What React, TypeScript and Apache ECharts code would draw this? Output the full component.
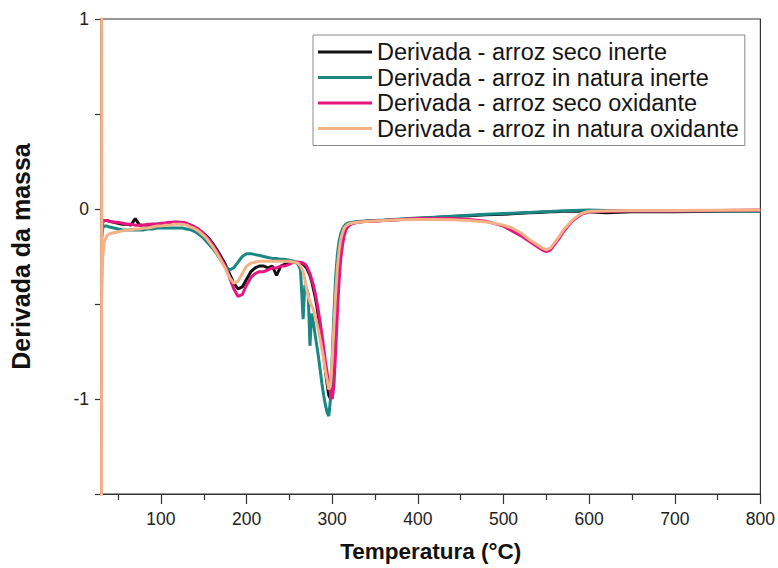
import React, { useEffect, useRef } from "react";
import * as echarts from "echarts";

// Temperature grid (°C) shared by the four DTG curves
const temps = [
  31, 32, 34, 37, 40, 45, 50, 55, 60, 65, 70, 75, 80, 85, 90, 95, 100,
  105, 110, 115, 120, 125, 130, 135, 140, 145, 150, 155, 160, 165, 170, 175, 180, 185, 190, 195, 200,
  205, 210, 215, 220, 225, 230, 235, 240, 245, 250, 255, 260, 263, 266, 268, 270, 272, 274, 276, 278, 280,
  282, 284, 286, 288, 290, 292, 294, 296, 298, 300, 302, 304, 306, 308, 310, 312, 314, 316, 318, 320,
  325, 330, 340, 350, 360, 380, 400, 420, 440, 460, 480, 500, 510, 520, 530, 540, 545, 550, 555, 560, 565, 570, 580, 590, 600, 620, 650, 700, 750, 800,
];

const secoInerte = [
  -0.09, -0.065, -0.06, -0.06, -0.065, -0.07, -0.075, -0.08, -0.08, -0.085, -0.05, -0.085, -0.085, -0.085, -0.08, -0.08, -0.078,
  -0.075, -0.072, -0.07, -0.07, -0.072, -0.078, -0.087, -0.098, -0.112, -0.13, -0.15, -0.178, -0.212, -0.25, -0.29, -0.34, -0.39, -0.42, -0.41, -0.37,
  -0.33, -0.31, -0.3, -0.3, -0.31, -0.3, -0.35, -0.3, -0.29, -0.285, -0.28, -0.28, -0.285, -0.29, -0.3, -0.31, -0.33, -0.35, -0.38, -0.42, -0.46,
  -0.51, -0.57, -0.63, -0.7, -0.77, -0.85, -0.92, -0.98, -1.0, -0.9, -0.72, -0.52, -0.36, -0.25, -0.18, -0.14, -0.11, -0.095, -0.085, -0.08,
  -0.072, -0.068, -0.065, -0.062, -0.06, -0.055, -0.05, -0.045, -0.04, -0.035, -0.03, -0.028, -0.025, -0.023, -0.02, -0.018, -0.017, -0.016, -0.015, -0.014, -0.013, -0.012, -0.012, -0.012, -0.015, -0.02, -0.015, -0.015, -0.012, -0.01,
];

const naturaInerte = [
  -0.15, -0.1, -0.09, -0.09, -0.095, -0.1, -0.105, -0.11, -0.11, -0.11, -0.11, -0.11, -0.11, -0.105, -0.105, -0.1, -0.1,
  -0.1, -0.1, -0.1, -0.1, -0.1, -0.105, -0.11, -0.12, -0.135, -0.155, -0.18, -0.205, -0.235, -0.27, -0.3, -0.32, -0.31, -0.28, -0.25, -0.235,
  -0.235, -0.24, -0.245, -0.25, -0.255, -0.26, -0.26, -0.265, -0.265, -0.27, -0.275, -0.29, -0.32, -0.58, -0.4, -0.42, -0.45, -0.72, -0.55, -0.6, -0.66,
  -0.72, -0.78, -0.85, -0.92, -0.98, -1.03, -1.07, -1.09, -1.0, -0.78, -0.55, -0.36, -0.24, -0.17, -0.13, -0.105, -0.09, -0.08, -0.075, -0.072,
  -0.068, -0.066, -0.063, -0.06, -0.058, -0.053, -0.048, -0.043, -0.038, -0.033, -0.028, -0.024, -0.022, -0.02, -0.018, -0.016, -0.015, -0.014, -0.013, -0.012, -0.011, -0.01, -0.008, -0.006, -0.005, -0.008, -0.01, -0.01, -0.01, -0.012,
];

const secoOxidante = [
  -0.1, -0.07, -0.06, -0.06, -0.065, -0.07, -0.07, -0.075, -0.08, -0.08, -0.085, -0.085, -0.085, -0.08, -0.08, -0.08, -0.075,
  -0.075, -0.07, -0.07, -0.07, -0.07, -0.075, -0.085, -0.095, -0.11, -0.13, -0.155, -0.185, -0.22, -0.26, -0.3, -0.36, -0.42, -0.46, -0.45, -0.4,
  -0.36, -0.34, -0.33, -0.33, -0.32, -0.31, -0.31, -0.3, -0.3, -0.29, -0.28, -0.28, -0.28, -0.285, -0.29, -0.3, -0.32, -0.34, -0.37, -0.4, -0.44,
  -0.49, -0.54, -0.6, -0.66, -0.73, -0.8, -0.86, -0.92, -0.97, -1.0, -0.93, -0.75, -0.55, -0.38, -0.26, -0.19, -0.14, -0.11, -0.095, -0.085,
  -0.075, -0.07, -0.065, -0.065, -0.06, -0.055, -0.05, -0.05, -0.05, -0.055, -0.065, -0.09, -0.115, -0.14, -0.17, -0.2, -0.215, -0.225, -0.215, -0.185, -0.155, -0.12, -0.065, -0.03, -0.015, -0.012, -0.01, -0.01, -0.008, -0.005,
];

const naturaOxidante = [
  -0.45, -0.25, -0.17, -0.14, -0.13, -0.125, -0.12, -0.115, -0.11, -0.11, -0.105, -0.105, -0.1, -0.1, -0.095, -0.09, -0.09,
  -0.085, -0.085, -0.08, -0.08, -0.08, -0.085, -0.095, -0.105, -0.12, -0.14, -0.165, -0.195, -0.23, -0.27, -0.31, -0.36, -0.39, -0.38, -0.34, -0.3,
  -0.285, -0.28, -0.275, -0.275, -0.275, -0.275, -0.275, -0.275, -0.275, -0.275, -0.28, -0.285, -0.3, -0.33, -0.37, -0.42, -0.46, -0.49, -0.51, -0.53, -0.56,
  -0.6, -0.64, -0.69, -0.74, -0.79, -0.85, -0.9, -0.95, -0.93, -0.8, -0.62, -0.45, -0.31, -0.22, -0.16, -0.125, -0.1, -0.09, -0.082, -0.078,
  -0.072, -0.07, -0.066, -0.063, -0.06, -0.057, -0.055, -0.055, -0.057, -0.06, -0.068, -0.085, -0.1, -0.125, -0.16, -0.19, -0.205, -0.215, -0.205, -0.175, -0.145, -0.11, -0.06, -0.025, -0.012, -0.01, -0.008, -0.008, -0.006, -0.005,
];

// Instrument start-up transient of the oxidising run (runs off the scale)
const onsetTemps = [30.6, 30.9];
const onsetValues = [-1.8, 1.3];

const seriesNames = [
  "Derivada - arroz seco inerte",
  "Derivada - arroz in natura inerte",
  "Derivada - arroz seco oxidante",
  "Derivada - arroz in natura oxidante",
];
const seriesColors = ["#111111", "#1a8785", "#e8157f", "#f5b287"];

const xLabelTicks = [100, 200, 300, 400, 500, 600, 700, 800];
const xMinorTicks = [50, 150, 250, 350, 450, 550, 650, 750];

const FONT = "'Liberation Sans', Arial, Helvetica, sans-serif";
const AXIS_COLOR = "#333";

const pairs = (xs: number[], ys: number[]) => xs.map((x, i) => [x, ys[i]]);

// An extra bottom axis that only draws tick marks at the given values
const tickOnlyAxis = (values: number[], length: number) => ({
  type: "value",
  min: 30,
  max: 800,
  position: "bottom",
  axisLine: { show: false, onZero: false },
  axisTick: {
    show: true,
    length,
    customValues: values,
    lineStyle: { color: AXIS_COLOR, width: 1.2 },
  },
  axisLabel: { show: false },
  splitLine: { show: false },
});

export default function App() {
  const ref = useRef<HTMLDivElement>(null);

  useEffect(() => {
    document.body.style.margin = "0";
    const chart = echarts.init(ref.current!, null, { renderer: "svg" });

    const curves = [
      pairs(temps, secoInerte),
      pairs(temps, naturaInerte),
      pairs(temps, secoOxidante),
      pairs(onsetTemps, onsetValues).concat(pairs(temps, naturaOxidante)),
    ];

    chart.setOption({
      animation: false,
      backgroundColor: "#ffffff",
      grid: {
        left: 99,
        right: 16,
        top: 19,
        bottom: 74,
        show: true,
        borderColor: AXIS_COLOR,
        borderWidth: 1.2,
        backgroundColor: "transparent",
      },
      legend: {
        orient: "vertical",
        left: 313,
        top: 35,
        icon: "rect",
        itemWidth: 54,
        itemHeight: 3,
        itemGap: 1.5,
        padding: [5, 6, 5, 5],
        borderColor: "#8a8a8a",
        borderWidth: 1,
        backgroundColor: "#fff",
        data: seriesNames,
        textStyle: {
          fontFamily: FONT,
          fontSize: 23.5,
          lineHeight: 24,
          color: "#151515",
        },
      },
      xAxis: [
        {
          type: "value",
          min: 30,
          max: 800,
          position: "bottom",
          name: "Temperatura (°C)",
          nameLocation: "middle",
          nameGap: 46,
          nameTextStyle: {
            fontFamily: FONT,
            fontSize: 22.5,
            fontWeight: "bold",
            color: "#111",
          },
          axisLine: { show: true, onZero: false, lineStyle: { color: AXIS_COLOR, width: 1.2 } },
          axisTick: { show: false },
          axisLabel: {
            customValues: xLabelTicks,
            fontFamily: FONT,
            fontSize: 17.5,
            color: "#222",
            margin: 16,
          },
          splitLine: { show: false },
        },
        tickOnlyAxis(xLabelTicks, 10),
        tickOnlyAxis(xMinorTicks, 6),
      ],
      yAxis: {
        type: "value",
        min: -1.5,
        max: 1,
        interval: 0.5,
        name: "Derivada da massa",
        nameLocation: "middle",
        nameGap: 68,
        nameTextStyle: {
          fontFamily: FONT,
          fontSize: 25,
          fontWeight: "bold",
          color: "#111",
        },
        axisLine: { show: true, onZero: false, lineStyle: { color: AXIS_COLOR, width: 1.2 } },
        axisTick: { show: true, length: 6, lineStyle: { color: AXIS_COLOR, width: 1.2 } },
        axisLabel: {
          fontFamily: FONT,
          fontSize: 17.5,
          color: "#222",
          margin: 12,
          formatter: (v: number) => (Number.isInteger(v) ? String(v) : ""),
        },
        splitLine: { show: false },
      },
      series: curves.map((data, i) => ({
        name: seriesNames[i],
        type: "line",
        data,
        symbol: "none",
        showSymbol: false,
        clip: true,
        color: seriesColors[i],
        lineStyle: { color: seriesColors[i], width: 3 },
        z: 2 + i,
      })),
    });

    return () => chart.dispose();
  }, []);

  return <div ref={ref} style={{ width: 778, height: 568 }} />;
}
